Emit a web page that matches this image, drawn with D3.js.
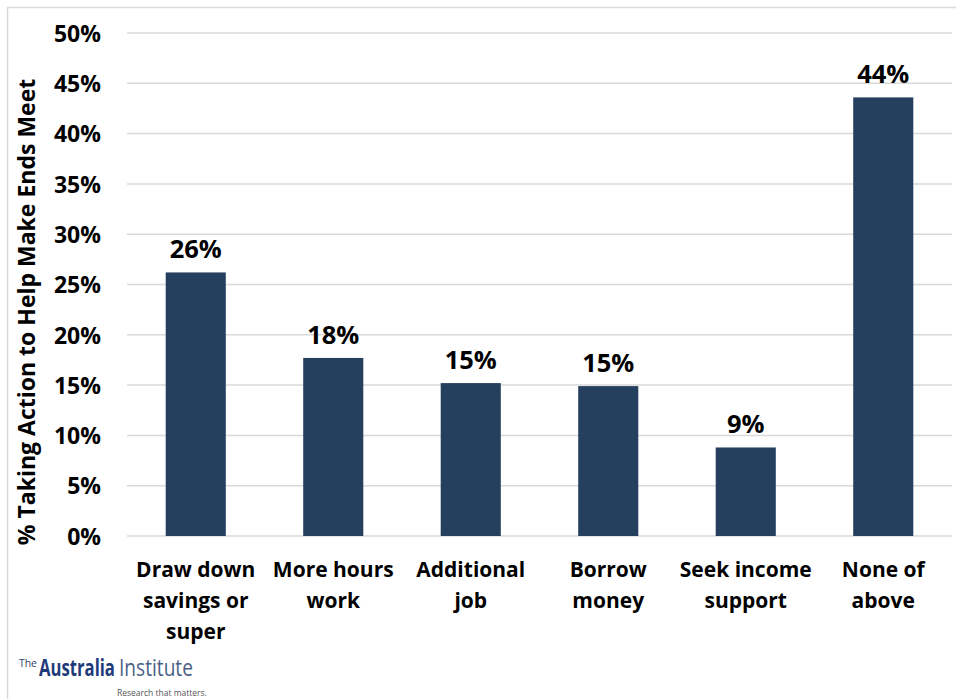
<!DOCTYPE html>
<html>
<head>
<meta charset="utf-8">
<script src="https://cdn.jsdelivr.net/npm/d3@7"></script>
<style>
  html, body { margin: 0; padding: 0; background: #fff; }
  svg { display: block; }
  text { font-family: "Open Sans", "Noto Sans", sans-serif; }
</style>
</head>
<body>
<svg id="chart" width="956" height="699"></svg>
<script>
// Share of respondents taking each action to help make ends meet
const categories = [
  ["Draw down", "savings or", "super"],
  ["More hours", "work"],
  ["Additional", "job"],
  ["Borrow", "money"],
  ["Seek income", "support"],
  ["None of", "above"]
];
const values = [26.2, 17.7, 15.2, 14.9, 8.8, 43.6];
const valueLabels = ["26%", "18%", "15%", "15%", "9%", "44%"];
const yTicks = [0, 5, 10, 15, 20, 25, 30, 35, 40, 45, 50];
const yTitle = "% Taking Action to Help Make Ends Meet";

const svg = d3.select("#chart");
const W = 956, H = 699;
const plot = { left: 127, right: 952, top: 33, bottom: 536 };

// Frame around the chart area
svg.append("path")
  .attr("d", `M7.5,${H} L7.5,7.5 L${W},7.5`)
  .attr("fill", "none")
  .attr("stroke", "#d9d9d9")
  .attr("stroke-width", 1.5);

const x = d3.scaleBand()
  .domain(d3.range(categories.length))
  .range([plot.left, plot.right])
  .paddingInner(0.563)
  .paddingOuter(0.2815);

const y = d3.scaleLinear()
  .domain([0, 50])
  .range([plot.bottom, plot.top]);

// Horizontal gridlines
svg.append("g")
  .selectAll("line")
  .data(yTicks)
  .join("line")
  .attr("x1", plot.left)
  .attr("x2", plot.right)
  .attr("y1", d => y(d))
  .attr("y2", d => y(d))
  .attr("stroke", "#d9d9d9")
  .attr("stroke-width", 1.5);

// Y axis tick labels
const yAxis = d3.axisLeft(y)
  .tickValues(yTicks)
  .tickFormat(d => d + "%")
  .tickSize(0)
  .tickPadding(0);
const gy = svg.append("g")
  .attr("transform", `translate(101,0)`)
  .call(yAxis);
gy.select(".domain").remove();
gy.selectAll("text")
  .attr("font-family", "'Open Sans', sans-serif")
  .attr("font-size", 23)
  .attr("font-weight", "bold")
  .attr("fill", "#000")
  .attr("dy", "0.36em");

// Bars
svg.append("g")
  .selectAll("rect")
  .data(values)
  .join("rect")
  .attr("x", (d, i) => x(i))
  .attr("width", x.bandwidth())
  .attr("y", d => y(d))
  .attr("height", d => y(0) - y(d))
  .attr("fill", "#253f5f");

// Value labels above bars
svg.append("g")
  .selectAll("text")
  .data(values)
  .join("text")
  .attr("x", (d, i) => x(i) + x.bandwidth() / 2)
  .attr("y", d => y(d) - 14)
  .attr("text-anchor", "middle")
  .attr("font-size", 25.5)
  .attr("font-weight", "bold")
  .attr("fill", "#000")
  .text((d, i) => valueLabels[i]);

// Category labels (multi-line)
const cat = svg.append("g")
  .selectAll("text")
  .data(categories)
  .join("text")
  .attr("x", (d, i) => x(i) + x.bandwidth() / 2)
  .attr("y", 577)
  .attr("text-anchor", "middle")
  .attr("font-size", 21)
  .attr("font-weight", "bold")
  .attr("fill", "#000");
cat.selectAll("tspan")
  .data(d => d)
  .join("tspan")
  .attr("x", function () { return d3.select(this.parentNode).attr("x"); })
  .attr("dy", (d, j) => j === 0 ? 0 : 31)
  .text(d => d);

// Y axis title
svg.append("text")
  .attr("transform", `translate(35,312) rotate(-90)`)
  .attr("text-anchor", "middle")
  .attr("font-size", 23)
  .attr("font-weight", "bold")
  .attr("fill", "#000")
  .text(yTitle);

// Institute wordmark: each piece is squeezed horizontally to a set width
function condensed(txt, left, baseline, width, size, weight, color) {
  const g = svg.append("g");
  const t = g.append("text")
    .attr("x", 0).attr("y", 0)
    .attr("font-family", "Roboto, sans-serif")
    .attr("font-size", size)
    .attr("font-weight", weight)
    .attr("fill", color)
    .text(txt);
  const natural = t.node().getComputedTextLength();
  g.attr("transform", `translate(${left},${baseline}) scale(${width / natural},1)`);
}
condensed("The", 19, 667, 18, 11, "normal", "#2d3f6e");
condensed("Australia", 39, 676, 76, 23, "bold", "#1f3a7a");
condensed("Institute", 119, 676, 74, 23, "normal", "#4a5f86");
condensed("Research that matters.", 117, 696, 90, 9.5, "normal", "#555");
</script>
</body>
</html>
